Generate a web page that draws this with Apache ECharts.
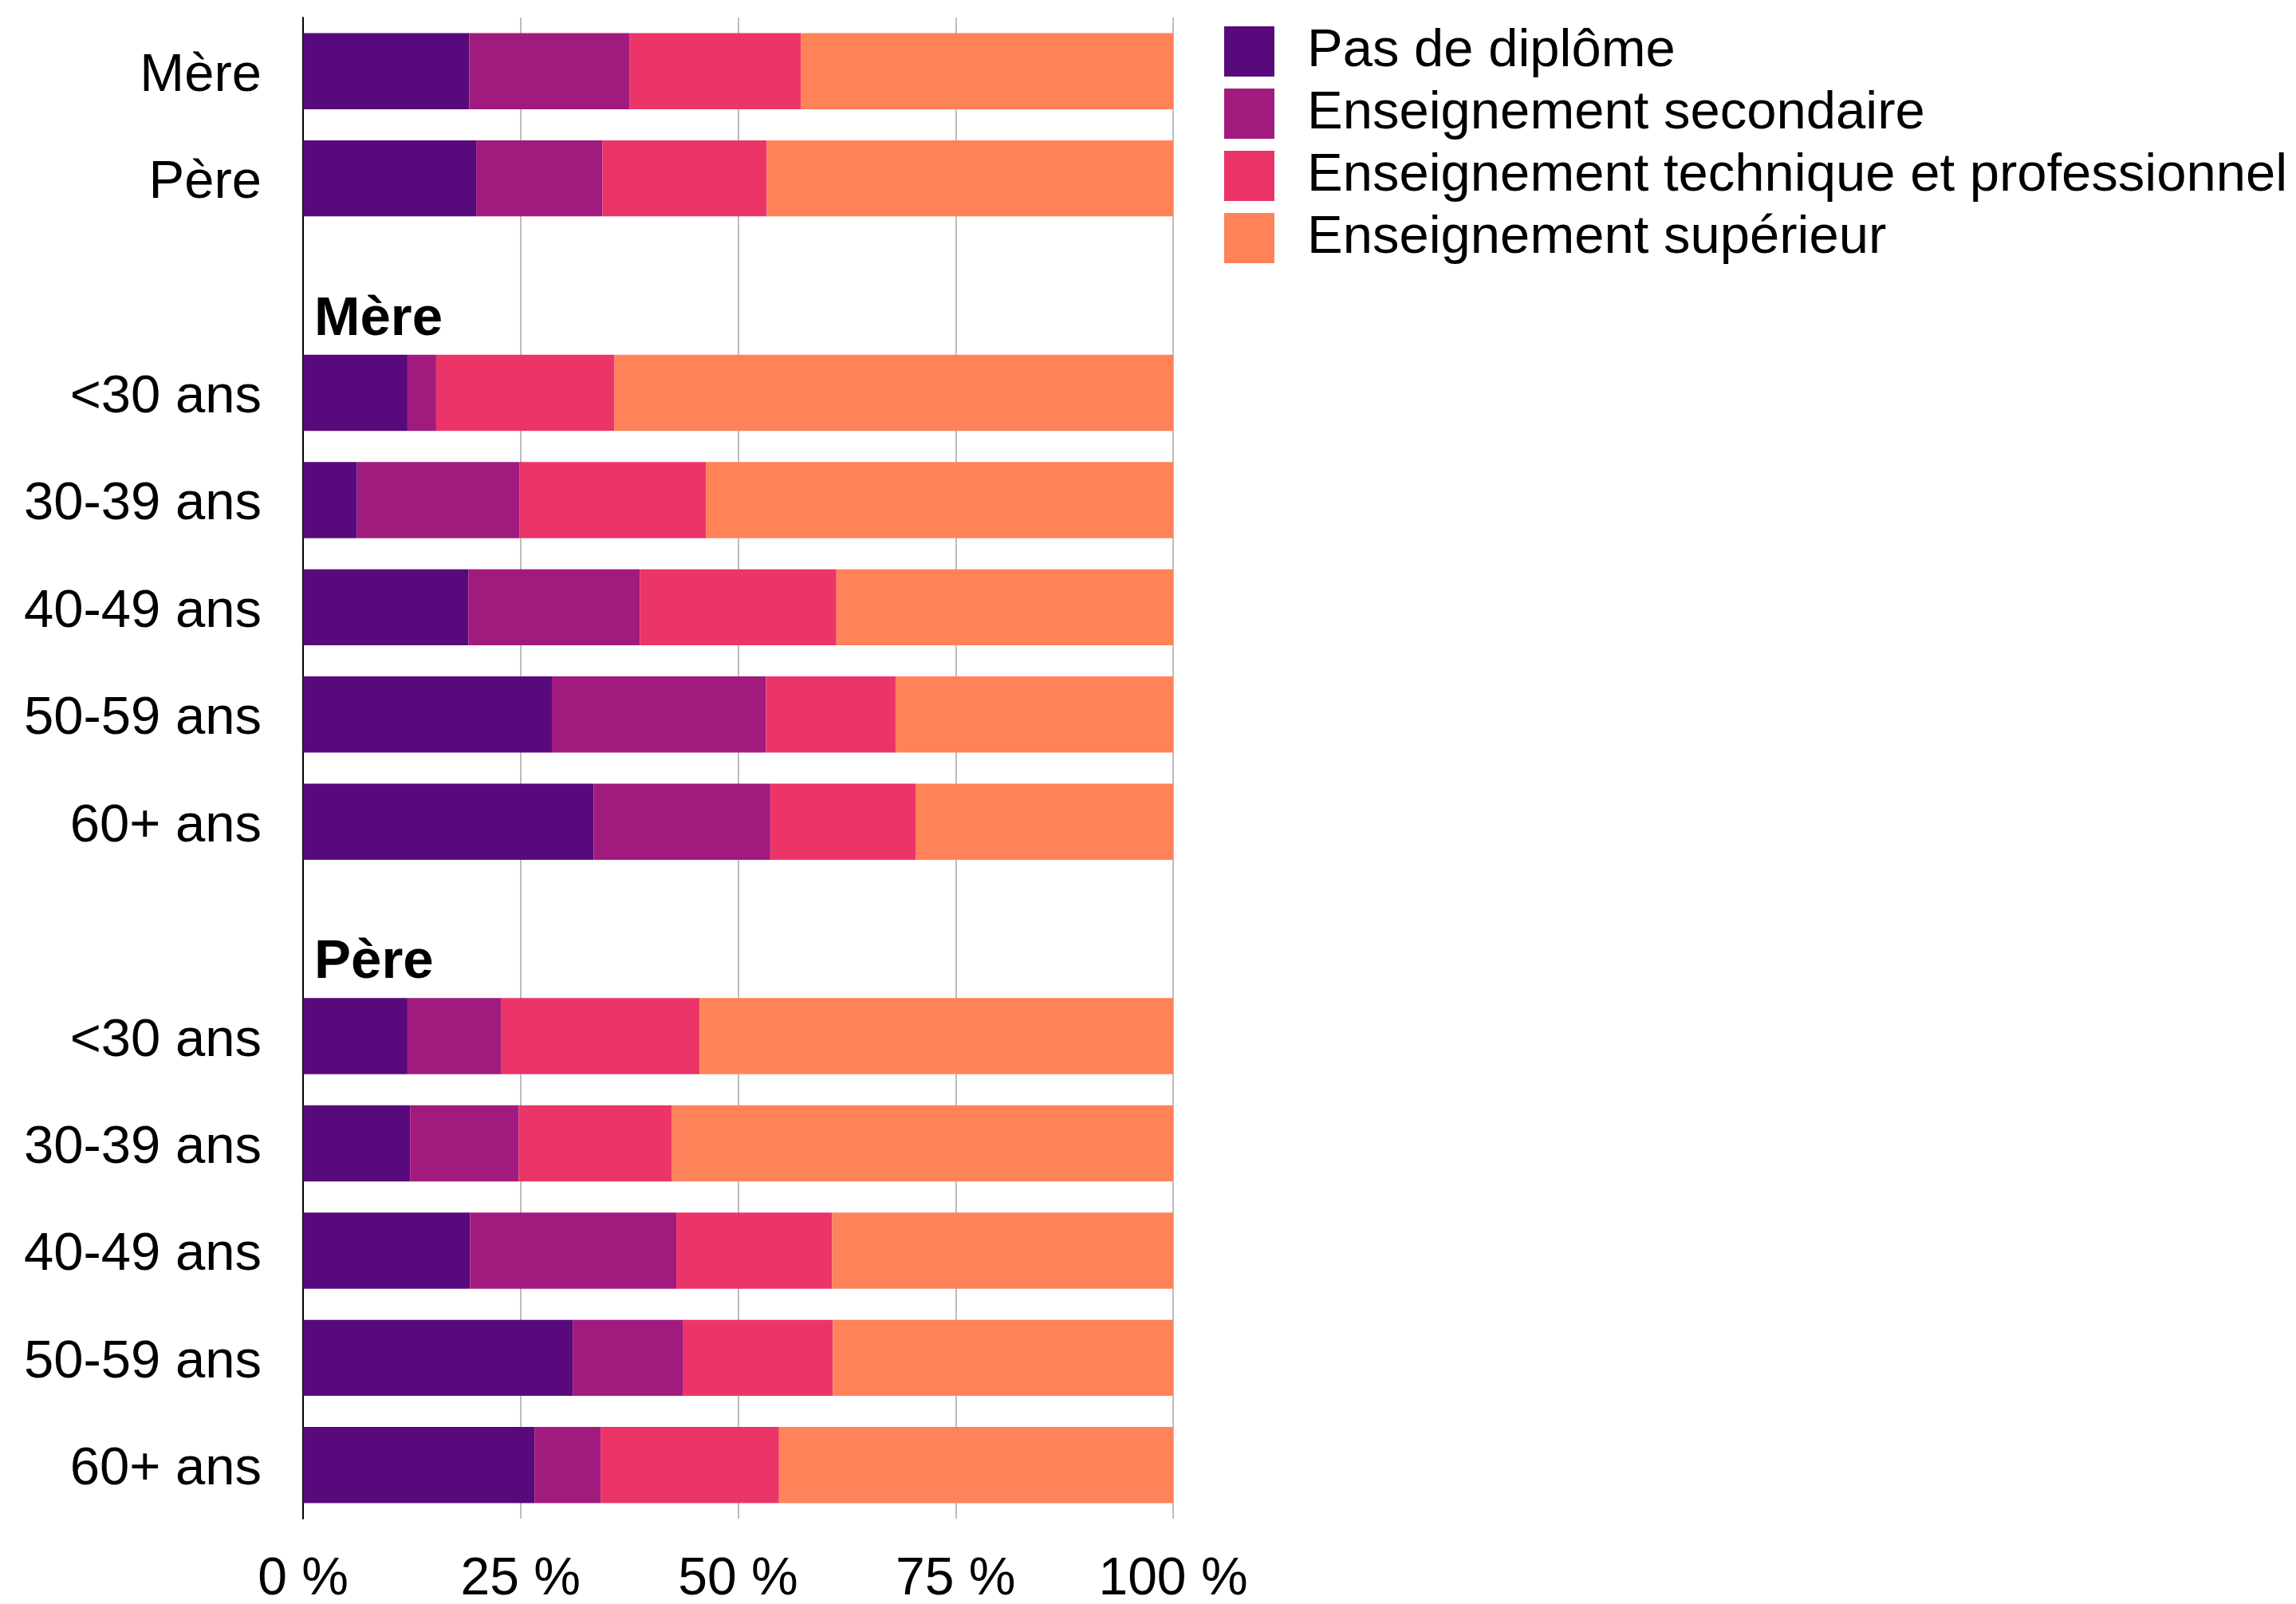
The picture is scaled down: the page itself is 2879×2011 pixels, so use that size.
<!DOCTYPE html>
<html>
<head>
<meta charset="utf-8">
<script src="https://cdn.jsdelivr.net/npm/echarts@6/dist/echarts.min.js"></script>
<style>html,body{margin:0;padding:0;background:#fff}#c{width:2879px;height:2011px}</style>
</head>
<body>
<div id="c"></div>
<script>
const rowLabels = ['Mère','Père','','<30 ans','30-39 ans','40-49 ans','50-59 ans','60+ ans','','<30 ans','30-39 ans','40-49 ans','50-59 ans','60+ ans'];
const groupHeaders = ['','','Mère','','','','','','Père','','','','',''];
const seriesNames = ['Pas de diplôme','Enseignement secondaire','Enseignement technique et professionnel','Enseignement supérieur'];
const pasDeDiplome = [19.1, 19.9, null, 12.0, 6.2, 19.0, 28.6, 33.4, null, 12.0, 12.3, 19.2, 31.0, 26.6];
const secondaire   = [18.4, 14.5, null, 3.3, 18.7, 19.7, 24.6, 20.3, null, 10.8, 12.5, 23.7, 12.7, 7.6];
const technique    = [19.7, 18.9, null, 20.5, 21.4, 22.6, 14.9, 16.7, null, 22.8, 17.6, 17.9, 17.2, 20.5];
const superieur    = [42.8, 46.7, null, 64.2, 53.7, 38.7, 31.9, 29.6, null, 54.4, 57.6, 39.2, 39.1, 45.3];
const xTicks = [0, 25, 50, 75, 100];
const colors = ['#580a7c', '#a11b7e', '#eb3569', '#ff8259'];

const FONT = '"Liberation Sans", Helvetica, Arial, sans-serif';
const chart = echarts.init(document.getElementById('c'));
const values = [pasDeDiplome, secondaire, technique, superieur];
chart.setOption({
  animation: false,
  textStyle: { fontFamily: FONT, color: '#000' },
  color: colors,
  grid: { left: 380, right: 1408, top: 22, bottom: 107, containLabel: false, outerBoundsMode: 'none' },
  legend: {
    orient: 'vertical', left: 1530, top: 26,
    itemWidth: 63, itemHeight: 63, itemGap: 11,
    icon: 'rect',
    data: seriesNames,
    textStyle: { fontSize: 67, color: '#000', fontFamily: FONT, padding: [6, 0, 0, 36] }
  },
  xAxis: {
    type: 'value', min: 0, max: 100, interval: 25,
    axisLine: { show: false }, axisTick: { show: false },
    splitLine: { show: true, lineStyle: { color: '#bdbdbd', width: 2 } },
    axisLabel: {
      fontSize: 66, color: '#000', margin: 44, fontFamily: FONT,
      customValues: xTicks,
      formatter: v => v + ' %'
    }
  },
  yAxis: [{
    type: 'category', inverse: true, data: rowLabels,
    axisLine: { show: true, lineStyle: { color: '#000', width: 2 } },
    axisTick: { show: false },
    axisLabel: {
      color: '#000', margin: 52, interval: 0,
      formatter: v => v ? '{a|' + v + '}' : '',
      rich: { a: { fontSize: 67, fontFamily: FONT, color: '#000', padding: [12, 0, 0, 0] } }
    }
  }, {
    type: 'category', inverse: true, data: groupHeaders, position: 'left',
    axisLine: { show: false }, axisTick: { show: false },
    axisLabel: {
      inside: true, interval: 0, fontSize: 69, fontWeight: 'bold', color: '#000',
      margin: 14, fontFamily: FONT, verticalAlign: 'top', padding: [8, 0, 0, 0]
    }
  }],
  series: seriesNames.map((n, i) => ({
    name: n, type: 'bar', stack: 'total', yAxisIndex: 0,
    barCategoryGap: '29%',
    itemStyle: { color: colors[i] },
    data: values[i]
  }))
});
</script>
</body>
</html>
